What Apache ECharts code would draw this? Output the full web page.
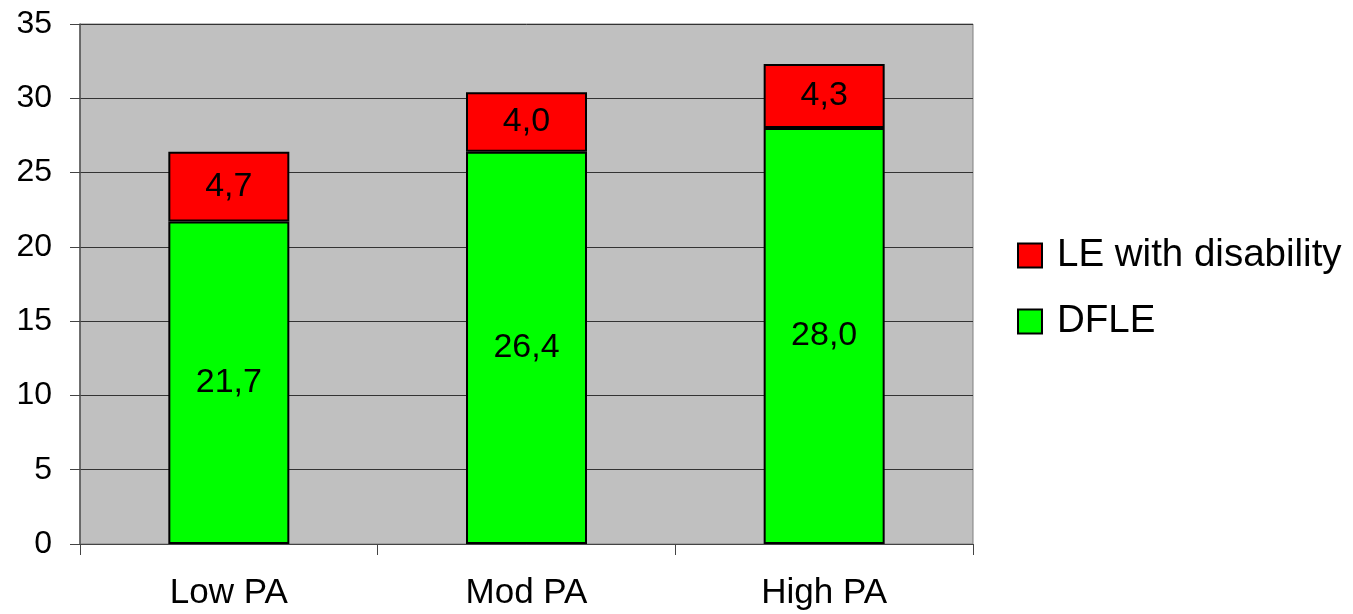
<!DOCTYPE html>
<html>
<head>
<meta charset="utf-8">
<style>
  html, body { margin: 0; padding: 0; background: #ffffff; }
  #chart { width: 1353px; height: 614px; }
</style>
<script src="https://cdn.jsdelivr.net/npm/echarts@6/dist/echarts.min.js"></script>
</head>
<body>
<div id="chart"></div>
<script>
// Life expectancy split by physical activity level
const categories = ['Low PA', 'Mod PA', 'High PA'];
const dfle = [21.7, 26.4, 28.0];            // disability-free life expectancy
const withDisability = [4.7, 4.0, 4.3];     // life expectancy with disability
const yTicks = [0, 5, 10, 15, 20, 25, 30, 35];

const FONT = 'Arial, "Liberation Sans", sans-serif';
const fmt = v => v.toFixed(1).replace('.', ',');

const chart = echarts.init(document.getElementById('chart'), null, { renderer: 'canvas' });

const segLabel = {
  show: true,
  position: 'inside',
  color: '#000',
  fontFamily: FONT,
  fontSize: 34,
  formatter: p => fmt(p.value)
};

chart.setOption({
  animation: false,
  backgroundColor: '#ffffff',
  textStyle: { fontFamily: FONT, color: '#000' },
  grid: {
    left: 80, right: 380, top: 24, bottom: 70,
    show: true,
    backgroundColor: '#C0C0C0',
    borderColor: '#808080',
    borderWidth: 1
  },
  legend: {
    orient: 'vertical',
    left: 1012,
    top: 231,
    itemWidth: 24,
    itemHeight: 24,
    itemGap: 27,
    icon: 'rect',
    data: ['LE with disability', 'DFLE'],
    textStyle: { fontFamily: FONT, fontSize: 38.5, color: '#000', padding: [0, 0, 0, 10] }
  },
  xAxis: {
    type: 'category',
    data: categories,
    boundaryGap: true,
    axisLine: { show: true, lineStyle: { color: '#444', width: 1 } },
    axisTick: { show: true, alignWithLabel: false, length: 11, lineStyle: { color: '#444' } },
    axisLabel: { color: '#000', fontFamily: FONT, fontSize: 35, margin: 32 },
    splitLine: { show: false }
  },
  yAxis: {
    type: 'value',
    min: yTicks[0],
    max: yTicks[yTicks.length - 1],
    interval: 5,
    axisLine: { show: true, lineStyle: { color: '#555', width: 1.5 } },
    axisTick: { show: true, length: 10, lineStyle: { color: '#444' } },
    axisLabel: { color: '#000', fontFamily: FONT, fontSize: 32, margin: 28 },
    splitLine: { show: true, lineStyle: { color: '#333', width: 1 } }
  },
  series: [
    {
      name: 'DFLE',
      type: 'bar',
      stack: 'le',
      data: dfle,
      barWidth: 121,
      itemStyle: { color: '#00FF00', borderColor: '#000', borderWidth: 2 },
      label: segLabel
    },
    {
      name: 'LE with disability',
      type: 'bar',
      stack: 'le',
      data: withDisability,
      barWidth: 121,
      itemStyle: { color: '#FF0000', borderColor: '#000', borderWidth: 2 },
      label: segLabel
    }
  ]
});
</script>
</body>
</html>
